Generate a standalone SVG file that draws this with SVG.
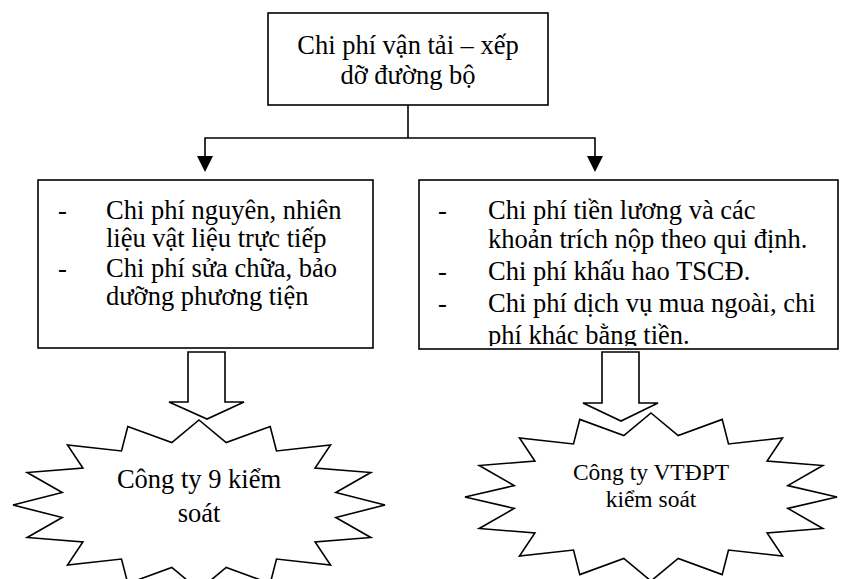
<svg xmlns="http://www.w3.org/2000/svg" width="841" height="579" viewBox="0 0 841 579">
  <style>
    .box { fill: #ffffff; stroke: #000000; stroke-width: 1.6; }
    .txt { font-family: "Liberation Serif", "Times New Roman", serif; font-size: 26.5px; fill: #000000; }
    .small { font-size: 23.5px; }
    .line { fill: none; stroke: #000000; stroke-width: 1.6; }
    .head { fill: #000000; stroke: none; }
  </style>
  <defs>
    <!-- text area of the right cost box; the last line runs past it -->
    <clipPath id="clipRight">
      <rect x="420" y="181" width="417" height="165"/>
    </clipPath>
  </defs>

  <rect width="841" height="579" fill="#ffffff"/>

  <!-- tree connectors -->
  <g id="connectors">
    <polyline class="line" points="408,105 408,138"/>
    <polyline class="line" points="205,158 205,138 595,138 595,158"/>
    <polygon class="head" points="197,156 213,156 205,172"/>
    <polygon class="head" points="587,156 603,156 595,172"/>
    <!-- block arrows down to the controlling companies -->
    <polygon class="box" points="188,352 225,352 225,402 244,402 207,419 169,402 188,402"/>
    <polygon class="box" points="602,352 639,352 639,403 658,403 621,421 583,403 602,403"/>
  </g>

  <g id="root">
    <rect class="box" x="268" y="13" width="280" height="92"/>
    <text class="txt" x="408" y="54" text-anchor="middle">Chi phí vận tải – xếp</text>
    <text class="txt" x="408" y="84" text-anchor="middle">dỡ đường bộ</text>
  </g>

  <g id="direct-costs">
    <rect class="box" x="38" y="180" width="335" height="168"/>
    <text class="txt" x="58" y="219">-</text>
    <text class="txt" x="106" y="219">Chi phí nguyên, nhiên</text>
    <text class="txt" x="106" y="247">liệu vật liệu trực tiếp</text>
    <text class="txt" x="58" y="277">-</text>
    <text class="txt" x="106" y="277">Chi phí sửa chữa, bảo</text>
    <text class="txt" x="106" y="305">dưỡng phương tiện</text>
  </g>

  <g id="other-costs">
    <rect class="box" x="419" y="180" width="419" height="169"/>
    <g clip-path="url(#clipRight)">
      <text class="txt" x="438" y="219">-</text>
      <text class="txt" x="488" y="219">Chi phí tiền lương và các</text>
      <text class="txt" x="488" y="248">khoản trích nộp theo qui định.</text>
      <text class="txt" x="438" y="280">-</text>
      <text class="txt" x="488" y="280">Chi phí khấu hao TSCĐ.</text>
      <text class="txt" x="438" y="312">-</text>
      <text class="txt" x="488" y="312">Chi phí dịch vụ mua ngoài, chi</text>
      <text class="txt" x="488" y="344">phí khác bằng tiền.</text>
    </g>
  </g>

  <!-- 16-point stars: outer radii 186 x 85, inner radii 0.75 of that -->
  <g id="company9">
    <polygon class="box" points="199,420 226.2,442.5 270.2,426.5 276.5,451 330.5,445 315.1,468.1 370.8,472.5 335.8,492.5 385,505 335.8,517.5 370.8,537.5 315.1,541.9 330.5,565 276.5,559 270.2,583.5 226.2,567.5 199,590 171.8,567.5 127.8,583.5 121.5,559 67.5,565 82.9,541.9 27.2,537.5 62.2,517.5 13,505 62.2,492.5 27.2,472.5 82.9,468.1 67.5,445 121.5,451 127.8,426.5 171.8,442.5"/>
    <text class="txt" x="199" y="488" text-anchor="middle">Công ty 9 kiểm</text>
    <text class="txt" x="199" y="522" text-anchor="middle">soát</text>
  </g>

  <g id="company-vtdpt">
    <polygon class="box" points="651,413 678.2,435.5 722.2,419.4 728.5,444 782.5,438 767.1,461.1 822.8,465.5 787.8,485.6 837,497 787.8,508.4 822.8,528.5 767.1,532.9 782.5,556 728.5,550 722.2,574.6 678.2,558.5 651,581 623.8,558.5 579.8,574.6 573.5,550 519.5,556 534.9,532.9 479.2,528.5 514.2,508.4 465,497 514.2,485.6 479.2,465.5 534.9,461.1 519.5,438 573.5,444 579.8,419.4 623.8,435.5"/>
    <text class="txt small" x="651" y="480" text-anchor="middle">Công ty VTĐPT</text>
    <text class="txt small" x="651" y="507" text-anchor="middle">kiểm soát</text>
  </g>
</svg>
